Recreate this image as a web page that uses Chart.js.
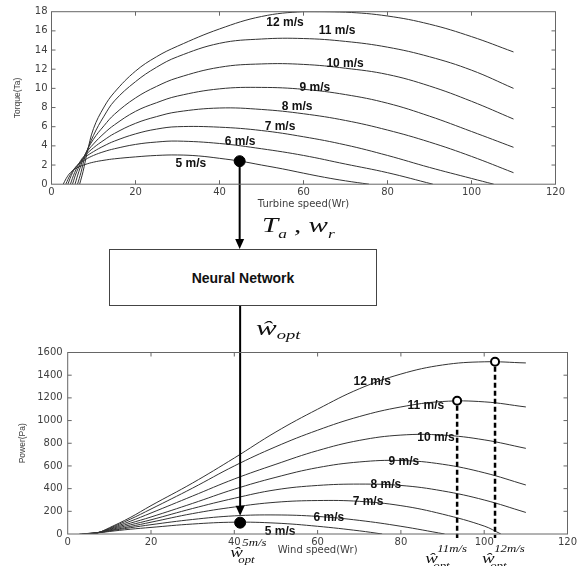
<!DOCTYPE html>
<html lang="en">
<head>
  <meta charset="UTF-8" />
  <title>Torque / power curves and neural network</title>
  <script src="https://cdn.jsdelivr.net/npm/chart.js"></script>
  <style>
    * { box-sizing: border-box; }
    body { margin: 0; background: #fff; }
    #page { position: relative; width: 584px; height: 566px; overflow: hidden; }
    #torqueChart { position: absolute; left: 0; top: 0; }
    #powerChart { position: absolute; left: 0; top: 306px; }
    .nn-box {
      position: absolute; left: 109px; top: 249px; width: 268px; height: 57px;
      border: 1px solid #444; background: #fff;
      display: flex; align-items: center; justify-content: center;
      font: bold 14px Arial, 'Liberation Sans', sans-serif; color: #111;
    }
    .math {
      position: absolute; white-space: nowrap; color: #111;
      font-family: 'Liberation Serif', 'Times New Roman', serif;
      font-style: italic; font-size: 20px; line-height: 20px;
      transform-origin: left top;
    }
    .math sub { font-size: 12px; vertical-align: -6px; line-height: 0; }
  </style>
</head>
<body>
  <div id="page">
    <canvas id="torqueChart" width="584" height="249"></canvas>
    <canvas id="powerChart" width="584" height="260"></canvas>
    <div class="math" style="left:262px; top:215px; transform:scaleX(1.45)">T<sub>a</sub> , w<sub>r</sub></div>
    <div class="nn-box">Neural Network</div>
    <div class="math" style="left:256px; top:318px; transform:scaleX(1.55)">ŵ<sub style="vertical-align:-4px">opt</sub></div>
  </div>

  <script>
    const windSpeeds = ['5 m/s', '6 m/s', '7 m/s', '8 m/s', '9 m/s', '10 m/s', '11 m/s', '12 m/s'];

    // torque (Ta) against turbine speed (Wr), one list of [speed, torque] per wind speed
    const torque5 = [[2.8,0],[3.5,0.6],[4.5,1.2],[6,1.7],[8,2.05],[10,2.3],[12.5,2.5],[15,2.65],[20,2.85],[25,3.0],[30,3.05],[35,2.95],[40,2.7],[45,2.4],[50,2.0],[55,1.6],[60,1.15],[65,0.72],[70,0.35],[75.6,0]];
    const torque6 = [[3.4,0],[4.5,1.0],[6,1.9],[8,2.55],[10,3.0],[12.5,3.4],[15,3.7],[20,4.15],[25,4.4],[30,4.5],[40,4.25],[50,3.7],[60,3.0],[70,2.1],[80,1.2],[90.8,0]];
    const torque7 = [[3.9,0],[5,1.2],[6,1.9],[8,2.8],[10,3.4],[12.5,4.0],[15,4.5],[20,5.25],[25,5.75],[30,6.0],[40,5.95],[50,5.6],[60,4.95],[70,4.1],[80,3.0],[90,1.75],[100,0.6],[105.3,0]];
    const torque8 = [[4.5,0],[5.5,1.2],[7,2.5],[8,3.0],[10,3.8],[12.5,4.6],[15,5.3],[20,6.35],[25,7.05],[30,7.55],[40,7.95],[50,7.8],[60,7.35],[70,6.65],[80,5.65],[90,4.4],[100,2.9],[110,1.2]];
    const torque9 = [[5,0],[6,1.3],[8,3.1],[10,4.2],[12.5,5.3],[15,6.2],[20,7.6],[25,8.5],[30,9.2],[40,9.95],[50,10.1],[60,9.9],[70,9.35],[80,8.45],[90,7.1],[100,5.5],[110,3.85]];
    const torque10 = [[5.6,0],[6.5,1.3],[8,3.1],[10,4.7],[12.5,6.1],[15,7.3],[20,9.0],[25,10.2],[30,11.1],[40,12.2],[50,12.55],[60,12.5],[70,12.1],[80,11.45],[90,10.25],[100,8.65],[110,6.8]];
    const torque11 = [[6.2,0],[7,1.2],[8,2.9],[10,5.1],[12.5,7.1],[15,8.7],[20,10.7],[25,12.2],[30,13.3],[40,14.7],[50,15.15],[60,15.2],[70,14.9],[80,14.3],[90,13.3],[100,11.9],[110,10.0]];
    const torque12 = [[6.7,0],[7.5,1.3],[8.5,3.3],[10,5.8],[12.5,8.05],[15,9.6],[20,11.8],[25,13.3],[30,14.4],[40,16.2],[50,17.5],[60,18.0],[70,17.95],[80,17.55],[90,16.7],[100,15.4],[110,13.8]];
    const torqueCurves = [torque5, torque6, torque7, torque8, torque9, torque10, torque11, torque12];

    // power (Pa) against speed (Wr)
    const power5 = [[2.8,0],[8,13],[10,22],[15,42],[20,58],[30,88],[40,104],[50,96],[60,68],[70,28],[75.5,0]];
    const power6 = [[3.4,0],[8,15],[10,27],[15,55],[20,82],[30,128],[40,160],[50,168],[60,155],[70,120],[80,68],[90.5,0]];
    const power7 = [[3.9,0],[8,16],[10,30],[15,66],[20,104],[30,180],[40,238],[50,280],[60,295],[70,288],[80,250],[90,175],[100,70],[104,0]];
    const power8 = [[4.5,0],[8,17],[10,35],[15,80],[20,125],[30,225],[40,315],[50,390],[60,428],[70,440],[80,428],[90,380],[100,300],[110,190]];
    const power9 = [[5,0],[8,18],[10,40],[15,95],[20,150],[30,270],[40,395],[50,500],[60,585],[70,635],[80,648],[90,615],[100,540],[110,432]];
    const power10 = [[5.6,0],[8,20],[10,45],[15,112],[20,185],[30,335],[40,485],[50,615],[60,735],[70,825],[80,872],[90,872],[100,830],[110,755]];
    const power11 = [[6.2,0],[8,20],[10,50],[15,130],[20,220],[30,405],[40,600],[50,770],[60,915],[70,1035],[80,1120],[90,1168],[100,1165],[110,1120]];
    const power12 = [[6.7,0],[8,20],[10,55],[15,145],[20,250],[30,450],[40,670],[50,900],[60,1100],[70,1280],[80,1410],[90,1490],[100,1518],[110,1508]];
    const powerCurves = [power5, power6, power7, power8, power9, power10, power11, power12];

    // marked operating points
    const torqueMark = [44.8, 2.4];
    const powerMark = [41.4, 100];
    const powerOptimum = [[93.5, 1175], [102.6, 1519]];
    const optimumTags = ['5m/s', '11m/s', '12m/s'];

    const tickFont = { family: "'DejaVu Sans', sans-serif", size: 10 };
    const tickColor = '#404040';

    function curveSets(curves) {
      return curves.map((c, i) => ({
        label: windSpeeds[i],
        data: c.map(p => ({ x: p[0], y: p[1] })),
        borderColor: '#333',
        borderWidth: 1,
        pointRadius: 0,
        tension: 0.4,
        fill: false,
        order: 2
      }));
    }

    // box round the plot with matlab style inward ticks
    const frame = {
      id: 'frame',
      afterDraw(chart) {
        const { ctx, chartArea: a, scales: { x, y } } = chart;
        ctx.save();
        ctx.strokeStyle = '#666';
        ctx.lineWidth = 1;
        ctx.strokeRect(a.left, a.top, a.right - a.left, a.bottom - a.top);
        ctx.beginPath();
        x.ticks.forEach(t => {
          const px = x.getPixelForValue(t.value);
          if (px <= a.left + 1 || px >= a.right - 1) return;
          ctx.moveTo(px, a.bottom); ctx.lineTo(px, a.bottom - 4);
          ctx.moveTo(px, a.top); ctx.lineTo(px, a.top + 4);
        });
        y.ticks.forEach(t => {
          const py = y.getPixelForValue(t.value);
          if (py <= a.top + 1 || py >= a.bottom - 1) return;
          ctx.moveTo(a.left, py); ctx.lineTo(a.left + 4, py);
          ctx.moveTo(a.right, py); ctx.lineTo(a.right - 4, py);
        });
        ctx.stroke();
        ctx.restore();
      }
    };

    const curveLabels = {
      id: 'curveLabels',
      afterDatasetsDraw(chart, args, opts) {
        const { ctx, scales: { x, y } } = chart;
        ctx.save();
        ctx.font = "bold 12px Arial, 'Liberation Sans', sans-serif";
        ctx.fillStyle = '#111';
        ctx.textAlign = 'center';
        ctx.textBaseline = 'middle';
        opts.at.forEach((p, i) => {
          ctx.fillText(windSpeeds[i], x.getPixelForValue(p[0]), y.getPixelForValue(p[1]));
        });
        ctx.restore();
      }
    };

    function arrowHead(ctx, px, tipY) {
      ctx.beginPath();
      ctx.moveTo(px - 4.5, tipY - 10);
      ctx.lineTo(px + 4.5, tipY - 10);
      ctx.lineTo(px, tipY);
      ctx.closePath();
      ctx.fill();
    }

    // line from the torque point down into the network box
    const torqueArrow = {
      id: 'torqueArrow',
      afterDatasetsDraw(chart) {
        const { ctx, scales: { x, y } } = chart;
        const px = x.getPixelForValue(torqueMark[0]);
        const py = y.getPixelForValue(torqueMark[1]);
        const tip = chart.height;
        ctx.save();
        ctx.strokeStyle = '#000';
        ctx.fillStyle = '#000';
        ctx.lineWidth = 2;
        ctx.beginPath();
        ctx.moveTo(px, py);
        ctx.lineTo(px, tip - 8);
        ctx.stroke();
        arrowHead(ctx, px, tip);
        ctx.restore();
      }
    };

    // network output coming down onto the power curves, dashed optimum lines, w labels
    const powerMarks = {
      id: 'powerMarks',
      afterDatasetsDraw(chart) {
        const { ctx, chartArea: a, scales: { x, y } } = chart;
        ctx.save();
        ctx.strokeStyle = '#000';
        ctx.fillStyle = '#000';
        ctx.lineWidth = 2;
        const px = x.getPixelForValue(powerMark[0]);
        const tip = y.getPixelForValue(powerMark[1]) - 7;
        ctx.beginPath();
        ctx.moveTo(px, 0);
        ctx.lineTo(px, tip - 8);
        ctx.stroke();
        arrowHead(ctx, px, tip);

        ctx.lineWidth = 2.5;
        ctx.setLineDash([5, 3]);
        powerOptimum.forEach(p => {
          const ox = x.getPixelForValue(p[0]);
          ctx.beginPath();
          ctx.moveTo(ox, y.getPixelForValue(p[1]) + 5);
          ctx.lineTo(ox, a.bottom + 4);
          ctx.stroke();
        });
        ctx.restore();
      },
      afterDraw(chart) {
        const { ctx, scales: { x } } = chart;
        const spots = [
          { v: powerMark[0], dx: -10, base: 251 },
          { v: powerOptimum[0][0], dx: -32, base: 257 },
          { v: powerOptimum[1][0], dx: -13, base: 257 }
        ];
        ctx.save();
        ctx.fillStyle = '#111';
        ctx.textBaseline = 'alphabetic';
        spots.forEach((s, i) => {
          ctx.save();
          ctx.translate(x.getPixelForValue(s.v) + s.dx, s.base);
          ctx.scale(1.35, 1);
          ctx.font = "italic 14px 'Liberation Serif', serif";
          ctx.fillText('ŵ', 0, 0);
          ctx.font = "italic 9.5px 'Liberation Serif', serif";
          ctx.fillText(optimumTags[i], 9, -11);
          ctx.fillText('opt', 6, 6);
          ctx.restore();
        });
        ctx.restore();
      }
    };

    const plainTick = v => String(v);

    new Chart(document.getElementById('torqueChart'), {
      type: 'line',
      data: {
        datasets: [
          ...curveSets(torqueCurves),
          {
            label: 'point',
            data: [{ x: torqueMark[0], y: torqueMark[1] }],
            showLine: false,
            pointRadius: 5.5,
            pointBackgroundColor: '#000',
            pointBorderColor: '#000',
            order: 0
          }
        ]
      },
      options: {
        responsive: false,
        animation: false,
        devicePixelRatio: 1,
        layout: { padding: { left: 0, top: 11.7, right: 28.5, bottom: 37 } },
        plugins: {
          legend: { display: false },
          tooltip: { enabled: false },
          curveLabels: { at: [[33.2, 2.1], [44.9, 4.4], [54.4, 5.97], [58.5, 8.06], [62.7, 10.1], [69.9, 12.6], [68.0, 16.0], [55.6, 16.9]] }
        },
        scales: {
          x: {
            type: 'linear', min: 0, max: 120,
            ticks: { stepSize: 20, font: tickFont, color: tickColor, padding: 2, maxRotation: 0, callback: plainTick },
            grid: { display: false, drawTicks: false },
            border: { display: false },
            title: { display: true, text: 'Turbine speed(Wr)', font: tickFont, color: tickColor, padding: { top: 0, bottom: 2 } },
            afterFit: s => { s.height = 27.8; }
          },
          y: {
            min: 0, max: 18,
            ticks: { stepSize: 2, font: tickFont, color: tickColor, padding: 4, callback: plainTick },
            grid: { display: false, drawTicks: false },
            border: { display: false },
            title: { display: true, text: 'Torque(Ta)', font: { family: 'Arial, sans-serif', size: 8.5 }, color: tickColor, padding: { top: 12.5, bottom: 0 } },
            afterFit: s => { s.width = 51.5; }
          }
        }
      },
      plugins: [frame, curveLabels, torqueArrow]
    });

    new Chart(document.getElementById('powerChart'), {
      type: 'line',
      data: {
        datasets: [
          ...curveSets(powerCurves),
          {
            label: 'point',
            data: [{ x: powerMark[0], y: powerMark[1] }],
            showLine: false,
            pointRadius: 5.5,
            pointBackgroundColor: '#000',
            pointBorderColor: '#000',
            order: 0
          },
          {
            label: 'optimum',
            data: powerOptimum.map(p => ({ x: p[0], y: p[1] })),
            showLine: false,
            pointRadius: 4,
            pointBorderWidth: 2,
            pointBackgroundColor: '#fff',
            pointBorderColor: '#000',
            order: 0
          }
        ]
      },
      options: {
        responsive: false,
        animation: false,
        devicePixelRatio: 1,
        layout: { padding: { left: 0, top: 46.5, right: 16.5, bottom: 6 } },
        plugins: {
          legend: { display: false },
          tooltip: { enabled: false },
          curveLabels: { at: [[51, 18], [62.7, 141], [72.1, 282], [76.4, 432], [80.7, 635], [88.4, 847], [86.0, 1129], [73.1, 1340]] }
        },
        scales: {
          x: {
            type: 'linear', min: 0, max: 120,
            ticks: { stepSize: 20, font: tickFont, color: tickColor, padding: 2, maxRotation: 0, callback: plainTick },
            grid: { display: false, drawTicks: false },
            border: { display: false },
            title: { display: true, text: 'Wind speed(Wr)', font: tickFont, color: tickColor, padding: { top: 0, bottom: 3.3 } },
            afterFit: s => { s.height = 26; }
          },
          y: {
            min: 0, max: 1600,
            ticks: { stepSize: 200, font: tickFont, color: tickColor, padding: 5, callback: plainTick },
            grid: { display: false, drawTicks: false },
            border: { display: false },
            title: { display: true, text: 'Power(Pa)', font: { family: 'Arial, sans-serif', size: 8.5 }, color: tickColor, padding: { top: 18, bottom: 0 } },
            afterFit: s => { s.width = 67.7; }
          }
        }
      },
      plugins: [frame, curveLabels, powerMarks]
    });
  </script>
</body>
</html>
